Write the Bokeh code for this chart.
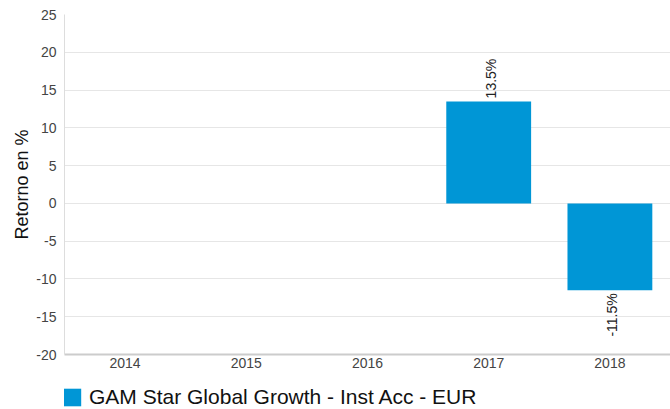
from bokeh.plotting import figure
from bokeh.layouts import column
from bokeh.models import (ColumnDataSource, Legend, LegendItem, FactorRange,
                          SingleIntervalTicker, Range1d, PrintfTickFormatter)
from bokeh.core.properties import value
from bokeh.embed import file_html
from bokeh.resources import INLINE

years = ["2014", "2015", "2016", "2017", "2018"]
returns = [None, None, None, 13.5, -11.5]
series_name = "GAM Star Global Growth - Inst Acc - EUR"
y_label = "Retorno en %"

bar_color = "#0096D6"
font = "Liberation Sans"

xs = [y for y, r in zip(years, returns) if r is not None]
vs = [r for r in returns if r is not None]
labels = [f"{v:.1f}%" for v in vs]
src = ColumnDataSource(dict(x=xs, top=vs, label=labels,
                            align=["left" if v >= 0 else "right" for v in vs],
                            off=[-3 if v >= 0 else 3 for v in vs]))

W = 670
p = figure(x_range=FactorRange(*years), y_range=Range1d(-20, 25),
           width=W, height=374, output_backend="svg", toolbar_location=None,
           min_border_left=64, min_border_right=0, min_border_top=14, min_border_bottom=20)

r = p.vbar(x="x", top="top", bottom=0, width=0.70, source=src, fill_color=bar_color, line_color=None)

p.text(x="x", y="top", text="label", source=src, angle=1.5708,
       text_align="align", text_baseline="middle", y_offset="off", x_offset=2,
       text_font=value(font), text_font_size="14px", text_color="#222222")

p.yaxis.ticker = SingleIntervalTicker(interval=5)
p.yaxis.formatter = PrintfTickFormatter(format="%d")
p.yaxis.axis_label = y_label
p.yaxis.axis_label_text_font = font
p.yaxis.axis_label_text_font_size = "18px"
p.yaxis.axis_label_text_font_style = "normal"
p.yaxis.axis_label_text_color = "#111111"
p.yaxis.axis_label_standoff = 1
p.yaxis.major_label_text_font = font
p.yaxis.major_label_text_font_size = "14px"
p.yaxis.major_label_text_color = "#444444"
p.yaxis.axis_line_color = "#dddddd"
p.yaxis.major_tick_line_color = None
p.yaxis.minor_tick_line_color = None
p.yaxis.major_tick_out = 0
p.yaxis.major_tick_in = 0
p.yaxis.major_label_standoff = 4

p.xaxis.major_label_text_font = font
p.xaxis.major_label_text_font_size = "14px"
p.xaxis.major_label_text_color = "#444444"
p.xaxis.axis_line_color = "#cccccc"
p.xaxis.axis_line_width = 2
p.xaxis.major_tick_line_color = None
p.xaxis.minor_tick_line_color = None
p.xaxis.major_tick_out = 0
p.xaxis.major_tick_in = 0
p.xaxis.major_label_standoff = 3

p.xgrid.grid_line_color = None
p.ygrid.grid_line_color = "#e6e6e6"
p.outline_line_color = None

# legend strip (the swatch renderer sits outside the visible range)
lg = figure(width=W, height=35, output_backend="svg", toolbar_location=None,
            x_range=Range1d(0, 1), y_range=Range1d(0, 1),
            x_axis_type=None, y_axis_type=None,
            min_border_left=64, min_border_right=0, min_border_top=0, min_border_bottom=0)
lg.outline_line_color = None
lg.xgrid.grid_line_color = None
lg.ygrid.grid_line_color = None
swatch = lg.vbar(x=[5], top=[5], bottom=[4], width=0.5,
                 fill_color=bar_color, line_color=None)
legend = Legend(items=[LegendItem(label=series_name, renderers=[swatch])],
                location=(-4, 0), orientation="horizontal",
                label_text_font=font, label_text_font_size="21px", label_text_color="#111111",
                glyph_width=23, glyph_height=22, label_height=20,
                border_line_color=None, background_fill_alpha=0,
                padding=0, margin=0, label_standoff=6)
lg.add_layout(legend)

layout = column(p, lg, spacing=0)
open("out.html", "w").write(file_html(layout, INLINE))
